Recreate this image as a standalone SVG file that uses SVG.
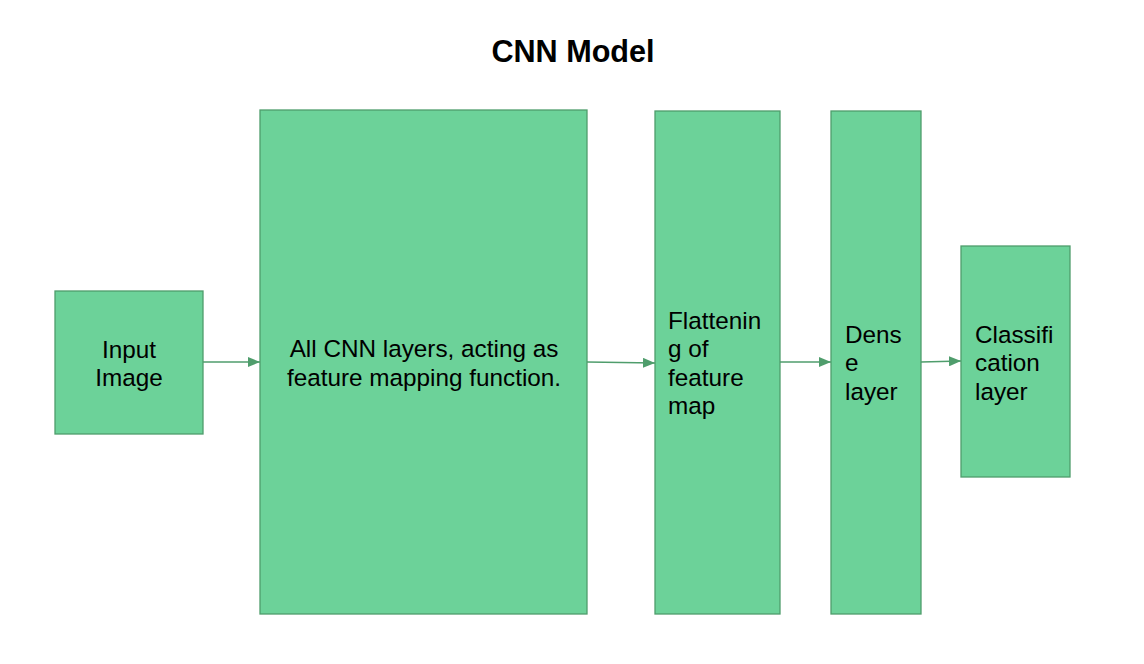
<svg xmlns="http://www.w3.org/2000/svg" width="1144" height="664" viewBox="0 0 1144 664">
<style>
.box{fill:#6cd299;stroke:#4f9d6c;stroke-width:1.3}
.t{font-family:"Liberation Sans",Arial,sans-serif;font-size:24.3px;fill:#000}
.c{text-anchor:middle}
.title{font-family:"Liberation Sans",Arial,sans-serif;font-size:30.6px;font-weight:bold;text-anchor:middle;fill:#000}
.edge{stroke:#4f9d6c;stroke-width:1.3;fill:none;marker-end:url(#ah)}
</style>
<defs>
<marker id="ah" markerWidth="12" markerHeight="10" refX="12" refY="5" orient="auto" markerUnits="userSpaceOnUse">
<path d="M0,0 L12,5 L0,10 Z" fill="#4f9d6c"/>
</marker>
</defs>
<rect width="1144" height="664" fill="#fff"/>
<text class="title" x="573" y="62">CNN Model</text>
<g id="connectors">
<line class="edge" x1="203" y1="362" x2="260" y2="362"/>
<line class="edge" x1="587" y1="362" x2="655" y2="363"/>
<line class="edge" x1="780" y1="362" x2="831" y2="362"/>
<line class="edge" x1="921" y1="362" x2="961" y2="361"/>
</g>
<g id="input">
<rect class="box" x="55" y="291" width="148" height="143"/>
<text class="t c" x="129" y="358">Input</text>
<text class="t c" x="129" y="386">Image</text>
</g>
<g id="cnn">
<rect class="box" x="260" y="110" width="327" height="504"/>
<text class="t c" x="424" y="357">All CNN layers, acting as</text>
<text class="t c" x="424" y="386">feature mapping function.</text>
</g>
<g id="flatten">
<rect class="box" x="655" y="111" width="125" height="503"/>
<text class="t" x="668" y="329">Flattenin</text>
<text class="t" x="668" y="357">g of</text>
<text class="t" x="668" y="386">feature</text>
<text class="t" x="668" y="414">map</text>
</g>
<g id="dense">
<rect class="box" x="831" y="111" width="90" height="503"/>
<text class="t" x="845" y="343">Dens</text>
<text class="t" x="845" y="371">e</text>
<text class="t" x="845" y="400">layer</text>
</g>
<g id="classification">
<rect class="box" x="961" y="246" width="109" height="231"/>
<text class="t" x="975" y="343">Classifi</text>
<text class="t" x="975" y="371">cation</text>
<text class="t" x="975" y="400">layer</text>
</g>
</svg>
